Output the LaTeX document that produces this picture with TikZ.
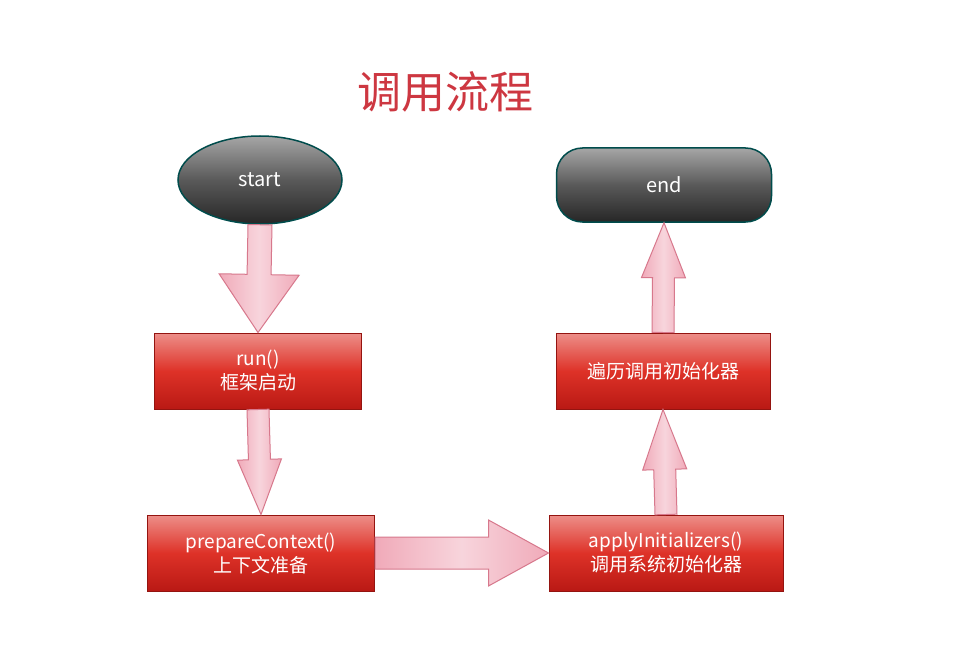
\documentclass[tikz,border=0pt]{standalone}
\usepackage{fontspec}
\setmainfont{Noto Sans CJK SC}
\usetikzlibrary{shapes.geometric,calc}
\definecolor{boxred}{RGB}{222,50,40}
\definecolor{boxdark}{RGB}{185,25,20}
\definecolor{pinkarr}{RGB}{240,170,185}
\definecolor{pinkb}{RGB}{215,120,140}
\definecolor{titlered}{RGB}{205,55,65}
\newcommand\blockarr[5]{% from, to, shaft half, head half, head length
  \path ($(#2)!#5!(#1)$) coordinate (hb);
  \draw[barr] ($(#1)!#3!90:(#2)$) -- ($(hb)!#3!-90:(#1)$) -- ($(hb)!#4!-90:(#1)$) -- (#2)
    -- ($(hb)!#4!90:(#1)$) -- ($(hb)!#3!90:(#1)$) -- ($(#1)!#3!-90:(#2)$) -- cycle;}
\begin{document}
\begin{tikzpicture}[x=1pt,y=-1pt,
  box/.style={draw=boxdark!80!black,line width=1pt,top color=boxred!55!white,bottom color=boxdark,middle color=boxred,
    minimum width=#1,minimum height=76pt,text=white,font=\fontsize{19}{24}\selectfont,align=center,inner sep=2pt},
  term/.style={draw=teal!60!black,line width=1.5pt,top color=gray!70,bottom color=black!85,middle color=black!65,text=white,font=\fontsize{20}{24}\selectfont},
  barr/.style={draw=pinkb,line width=1pt,left color=pinkarr,right color=pinkarr,middle color=pinkarr!50!white}]
\useasboundingbox (0,0) rectangle (975,666);
\fill[white] (0,0) rectangle (975,666);
\node[text=titlered,font=\fontsize{44}{50}\selectfont] (title) at (445,92) {调用流程};
\node[term,ellipse,minimum width=164pt,minimum height=88pt] (start) at (260,180) {start};
\node[term,rounded corners=26pt,minimum width=215pt,minimum height=74pt] (end) at (664,185) {end};
\node[box=207pt] (run) at (258,371) {run()\\框架启动};
\node[box=227pt] (prep) at (261,553) {prepareContext()\\上下文准备};
\node[box=234pt] (apply) at (666,553) {applyInitializers()\\调用系统初始化器};
\node[box=214pt] (trav) at (663,371) {遍历调用初始化器};
\coordinate (s1) at (start.south); \coordinate (e1) at (run.north);
\coordinate (s2) at (run.south); \coordinate (e2) at (prep.north);
\coordinate (s3) at (prep.east); \coordinate (e3) at (apply.west);
\coordinate (s4) at (apply.north); \coordinate (e4) at (trav.south);
\coordinate (s5) at (trav.north); \coordinate (e5) at (end.south);
\blockarr{s1}{e1}{12pt}{40pt}{58pt}
\blockarr{s2}{e2}{11pt}{22pt}{55pt}
\blockarr{s3}{e3}{16pt}{33pt}{60pt}
\blockarr{s4}{e4}{11pt}{22pt}{60pt}
\blockarr{s5}{e5}{11pt}{22pt}{55pt}
\end{tikzpicture}
\end{document}
